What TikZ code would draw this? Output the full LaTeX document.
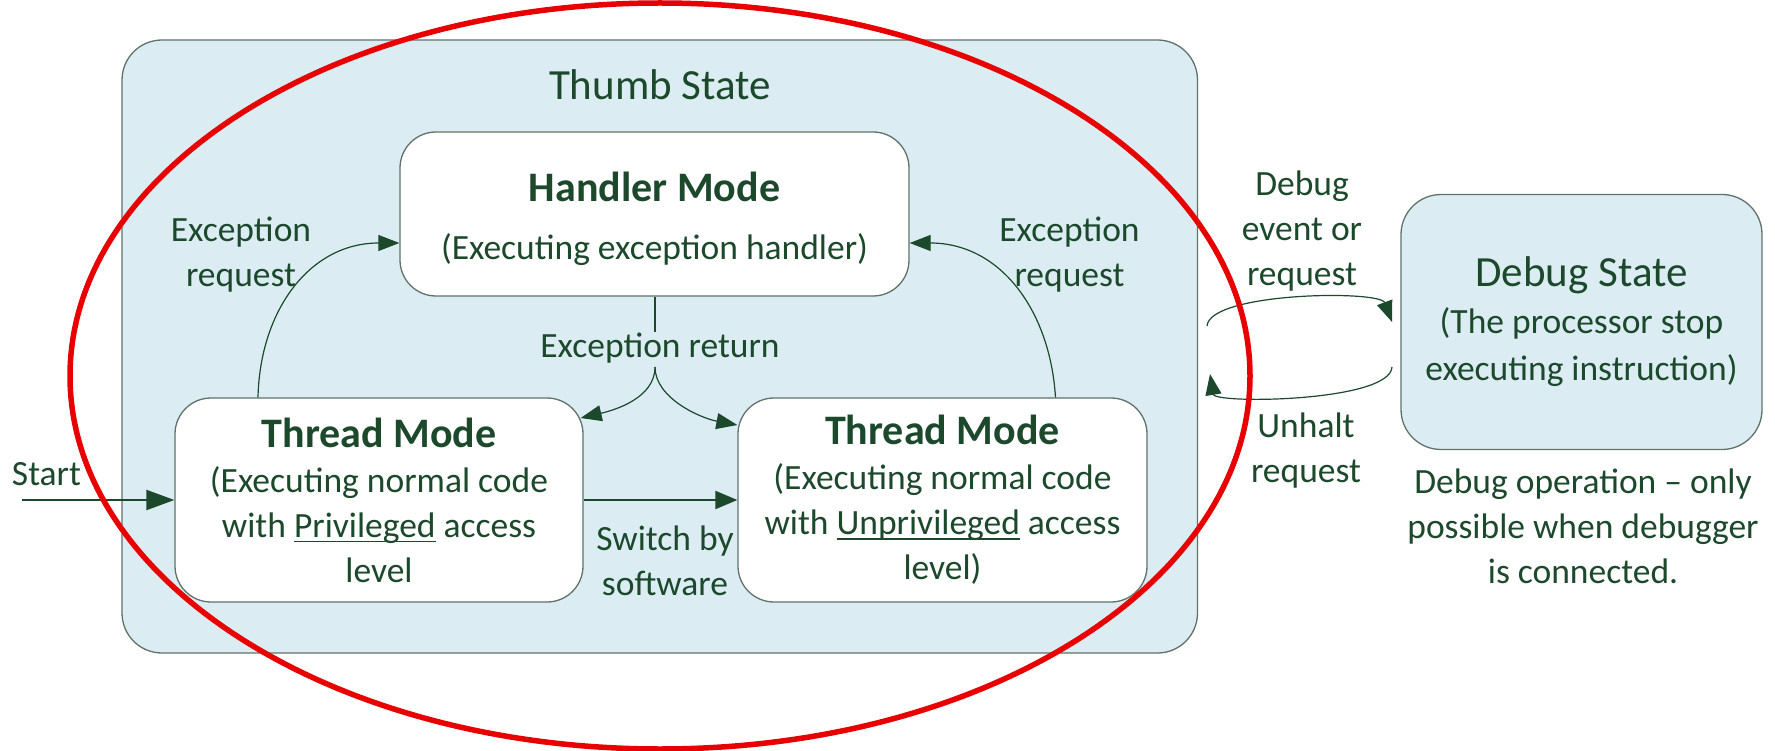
\documentclass[tikz,border=0pt]{standalone}
\usepackage{fontspec}
\setmainfont{Carlito}
\usetikzlibrary{arrows.meta,calc}
\definecolor{ink}{RGB}{28,72,44}
\definecolor{paleblue}{RGB}{219,237,243}
\definecolor{edge}{RGB}{95,115,105}
\definecolor{ring}{RGB}{232,0,0}
\newcommand{\bodysize}{\fontsize{35.5}{45}\selectfont}
\newcommand{\titlesize}{\fontsize{42}{50}\selectfont\bfseries}
\newcommand{\statesize}{\fontsize{43}{50}\selectfont}
% underline drawn close to the baseline, through the descenders
\newlength{\ulwd}
\newcommand{\ulword}[1]{\settowidth{\ulwd}{#1}\rlap{\rule[-5pt]{\ulwd}{1.6pt}}#1}

\begin{document}
\begin{tikzpicture}[x=1pt,y=-1pt,
  every node/.style={text=ink, font=\bodysize},
  statebox/.style={draw=edge, line width=1.3pt, rounded corners=40pt, fill=paleblue, inner sep=0pt},
  modebox/.style={draw=edge, line width=1.3pt, rounded corners=36pt, fill=white, align=center, inner sep=0pt},
  txt/.style={align=center, inner sep=0pt},
  flow/.style={draw=ink, line width=2pt, -{Triangle[length=22pt,width=18pt]}},
  curvy/.style={draw=ink, line width=1.2pt, -{Triangle[length=21pt,width=16pt]}},
]
\useasboundingbox (0,0) rectangle (1775,751);

% outer state containers
\node[statebox, minimum width=1075.5pt, minimum height=613pt] (thumb) at (659.75,346.5) {};
\node[txt, anchor=base, font=\statesize] (thumbtitle) at (660,100) {Thumb State};

\node[statebox, align=center, minimum width=361pt, minimum height=255pt] (debug) at (1581.5,322)
  {{\statesize Debug State}\\[2pt] (The processor stop\\[2pt] executing instruction)};

% processor modes
\node[modebox, minimum width=509pt, minimum height=164pt] (handler) at (654.5,214)
  {\rule{0pt}{40pt}{\titlesize Handler Mode}\\[13pt] (Executing exception handler)};
\node[modebox, minimum width=408pt, minimum height=204pt] (lthread) at (379,500)
  {{\titlesize Thread Mode}\\ (Executing normal code\\ with \ulword{Privileged} access\\ level};
\node[modebox, minimum width=409pt, minimum height=204pt] (rthread) at (942.5,500)
  {{\titlesize Thread Mode}\\ (Executing normal code\\ with \ulword{Unprivileged} access\\ level)};

% labels
\node[txt] (reqleft) at (241,255) {Exception\\ request};
\node[txt] (reqright) at (1069.5,255) {Exception\\ request};
\node[txt, anchor=base] (exret) at (660,357) {Exception return};
\node[txt] (swlabel) at (665,561) {Switch by\\ software};
\node[txt, anchor=base] (startlabel) at (46.5,485) {Start};
\node[txt] (dbglabel) at (1302,231) {Debug\\ event or\\ request};
\node[txt] (unhalt) at (1306,451) {Unhalt\\ request};
\node[txt] (note) at (1583,526) {Debug operation -- only\\ possible when debugger\\ is connected.};

% connector end points
\coordinate (startpt) at (22,500);
\coordinate (split) at (655,367);
\coordinate (dbgout) at (1207,326);
\coordinate (dbgin) at (1392,322);
\coordinate (dbgback) at (1392,367);
\coordinate (dbgret) at (1210,374);

% transitions inside the thumb state
\draw[flow, -{Triangle[length=28pt,width=20pt]}] (startpt) -- (lthread.west);
\draw[flow] (lthread.east) -- (rthread.west);

\draw[curvy] ($(lthread.north)+(-121,0)$) .. controls (260,310) and (310,243) .. ($(handler.west)+(0,29)$);
\draw[curvy] ($(rthread.north)+(113,0)$) .. controls (1050,310) and (1000,243) .. ($(handler.east)+(0,29)$);

\draw[draw=ink, line width=1.2pt] (handler.south -| split) -- (exret.north -| split);
\draw[curvy] (split) .. controls (655,398) and (615,410) .. ($(lthread.east)+(-3,-82)$);
\draw[curvy] (split) .. controls (655,398) and (700,418) .. ($(rthread.west)+(0,-75)$);

% entering and leaving debug state
\draw[curvy] (dbgout) .. controls (1210,292) and (1380,290) .. (dbgin);
\draw[curvy] (dbgback) .. controls (1390,402) and (1215,404) .. (dbgret);

% highlight ring
\draw[ring, line width=5.5pt] (660,376) ellipse [x radius=590, y radius=373];
\end{tikzpicture}
\end{document}
